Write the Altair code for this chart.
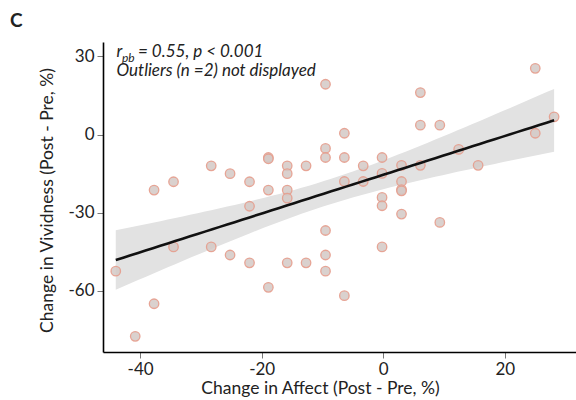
import altair as alt
import numpy as np
import pandas as pd

# Change in Affect (x) and Change in Vividness (y)
affect = [-44.0, -40.8, -37.7, -37.7, -34.5, -34.5, -28.3, -28.3, -25.2, -25.2,
          -22.0, -22.0, -22.0, -18.9, -18.9, -18.9, -18.9, -15.8, -15.8, -15.8,
          -15.8, -15.8, -12.7, -12.7, -9.5, -9.5, -9.5, -9.5, -9.5, -9.5,
          -6.4, -6.4, -6.4, -6.4, -3.3, -3.3, -0.2, -0.2, -0.2, -0.2,
          -0.2, 3.0, 3.0, 3.0, 3.0, 3.0, 6.1, 6.1, 6.1, 9.3,
          9.3, 12.4, 15.6, 25.0, 25.0, 28.1]
vividness = [-52.4, -77.4, -21.3, -64.9, -18.1, -43.1, -12.0, -43.1, -15.0, -46.2,
             -18.1, -27.5, -49.2, -8.8, -9.3, -21.3, -58.6, -12.0, -15.0, -21.3,
             -24.4, -49.2, -12.0, -49.2, 19.3, -5.3, -8.8, -36.8, -46.2, -52.4,
             0.5, -8.8, -18.0, -61.8, -12.0, -18.0, -8.8, -14.9, -24.1, -27.3,
             -43.1, -11.8, -18.0, -21.1, -21.6, -30.5, 16.1, 3.6, -11.8, 3.6,
             -33.7, -5.7, -11.8, 25.4, 0.5, 6.8]

x_ticks = [-40, -20, 0, 20]
y_ticks = [-60, -30, 0, 30]
x_title = "Change in Affect (Post - Pre, %)"
y_title = "Change in Vividness (Post - Pre, %)"
panel_label = ["C"]
note_r = ["r"]
note_sub = ["pb"]
note_rest = ["= 0.55, p < 0.001"]
note_line2 = ["Outliers (n =2) not displayed"]

FONT = "Lato"

df = pd.DataFrame({"affect": affect, "vividness": vividness})

# OLS fit with 95% confidence band computed from the data
xa = np.array(affect)
ya = np.array(vividness)
n = len(xa)
slope, intercept = np.polyfit(xa, ya, 1)
resid = ya - (slope * xa + intercept)
s = np.sqrt(np.sum(resid ** 2) / (n - 2))
xbar = xa.mean()
sxx = np.sum((xa - xbar) ** 2)
t_crit = 2.005
xs = np.linspace(xa.min(), xa.max(), 60)
yhat = slope * xs + intercept
half = t_crit * s * np.sqrt(1.0 / n + (xs - xbar) ** 2 / sxx)
fit = pd.DataFrame({"x": xs, "y": yhat, "lo": yhat - half, "hi": yhat + half})

xscale = alt.Scale(domain=[-46.1, 31.7], nice=False, zero=False)
yscale = alt.Scale(domain=[-83.4, 35.5], nice=False, zero=False)

hyphen = "replace(datum.label, '\u2212', '-')"
xaxis = alt.Axis(values=x_ticks, title=x_title, titleX=217, titleY=41,
                 titleAlign="center", titleBaseline="alphabetic",
                 labelExpr=hyphen)
yaxis = alt.Axis(values=y_ticks, title=y_title, titleX=-56, titleY=158,
                 titleAlign="center", titleBaseline="middle",
                 labelExpr=hyphen)

band = alt.Chart(fit).mark_area(color="#e2e2e2", opacity=1).encode(
    x=alt.X("x:Q", scale=xscale, axis=xaxis),
    y=alt.Y("lo:Q", scale=yscale, axis=yaxis),
    y2="hi:Q",
)

points = alt.Chart(df).mark_point(
    shape="circle", filled=True, size=90, fill="#d4c9c6", fillOpacity=0.85,
    stroke="#e69c8c", strokeWidth=1.3, strokeOpacity=0.9
).encode(
    x=alt.X("affect:Q", scale=xscale),
    y=alt.Y("vividness:Q", scale=yscale),
)

line = alt.Chart(fit).mark_line(color="#111111", strokeWidth=2.6).encode(
    x=alt.X("x:Q", scale=xscale),
    y=alt.Y("y:Q", scale=yscale),
)

def txt(vals, x, y, size, style="italic", weight="normal", align="left"):
    return alt.Chart(pd.DataFrame({"t": vals})).mark_text(
        font=FONT, fontSize=size, fontStyle=style, fontWeight=weight,
        align=align, baseline="alphabetic", color="#222222"
    ).encode(x=alt.value(x), y=alt.value(y), text="t:N")

ann = (
    txt(note_r, 13.5, 14.5, 17)
    + txt(note_sub, 19, 19.5, 12)
    + txt(note_rest, 35, 14.5, 17)
    + txt(note_line2, 13.5, 34, 17)
    + txt(panel_label, -93, -15, 19, style="normal", weight="bold")
)

chart = alt.layer(band, points, line, ann).properties(
    width=473, height=310,
    padding={"left": 103, "top": 42, "right": 0, "bottom": 48},
    autosize=alt.AutoSizeParams(type="none"),
    background="white",
).configure_view(stroke=None).configure_axis(
    grid=False, domainColor="#000000", domainWidth=1.6,
    tickColor="#777777", tickSize=6, tickWidth=1,
    labelFont=FONT, labelFontSize=17, labelColor="#222222", labelPadding=3,
    titleFont=FONT, titleFontSize=17.5, titleFontWeight="normal", titleColor="#222222",
)

chart.save("out.html", embed_options={"renderer": "svg", "actions": False})
